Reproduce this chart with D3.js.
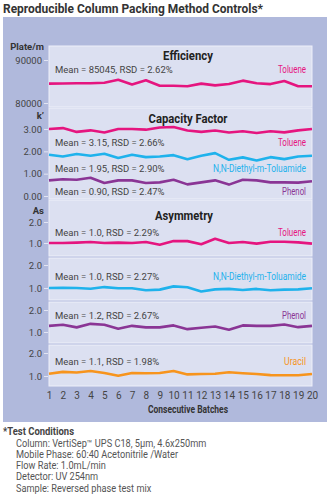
<!DOCTYPE html>
<html>
<head>
<meta charset="utf-8">
<script src="https://cdn.jsdelivr.net/npm/d3@7"></script>
<style>
  body { margin: 0; background: #fff; }
  svg { display: block; }
  text { font-family: "Roboto", "DejaVu Sans Condensed", sans-serif; }
</style>
</head>
<body>
<svg width="330" height="497"></svg>
<script>
// batches on the x axis
var batches = [1, 2, 3, 4, 5, 6, 7, 8, 9, 10, 11, 12, 13, 14, 15, 16, 17, 18, 19, 20];

// efficiency, plates per metre
var effToluene = [84500, 84550, 84600, 84600, 84700, 85400, 84300, 85300, 84000, 84000,
                  83900, 84500, 84100, 84400, 85200, 84600, 84400, 85100, 83900, 83900];

// capacity factor k'
var kToluene = [3.0, 3.04, 2.87, 2.94, 2.84, 3.0, 3.0, 2.97, 3.07, 3.09,
                2.93, 2.87, 2.93, 2.84, 2.9, 2.82, 2.9, 2.85, 2.94, 3.0];
var kDeet = [1.85, 1.77, 1.88, 1.8, 1.89, 1.7, 1.85, 1.74, 1.77, 1.83,
             1.65, 1.8, 1.92, 1.62, 1.73, 1.59, 1.74, 1.65, 1.77, 1.8];
var kPhenol = [0.70, 0.75, 0.73, 0.82, 0.58, 0.70, 0.70, 0.58, 0.61, 0.73,
               0.52, 0.61, 0.70, 0.51, 0.73, 0.70, 0.61, 0.61, 0.60, 0.66];

// asymmetry As
var asToluene = [1.0, 1.0, 1.02, 1.05, 1.0, 1.02, 1.0, 1.05, 0.92, 1.09,
                 1.09, 0.94, 1.2, 1.0, 1.05, 0.97, 1.06, 1.06, 1.03, 0.97];
var asDeet = [1.0, 1.01, 1.0, 0.97, 1.04, 0.99, 0.99, 0.9, 0.93, 1.07,
              1.03, 0.85, 0.94, 0.96, 0.91, 0.96, 0.9, 0.93, 0.94, 0.99];
var asPhenol = [1.28, 1.33, 1.21, 1.37, 1.33, 1.15, 1.28, 1.21, 1.21, 1.30,
                1.13, 1.19, 1.25, 1.10, 1.30, 1.28, 1.28, 1.34, 1.22, 1.28];
var asUracil = [1.10, 1.18, 1.15, 1.22, 1.13, 1.01, 1.13, 1.12, 1.13, 1.22,
                1.07, 1.09, 1.10, 1.16, 1.12, 1.09, 1.04, 1.03, 1.03, 1.09];

// tick labels
var effTicks = [80000, 90000];
var kTicks = [0, 1, 2, 3];
var asTicks = [1, 2];

var conditions = [
  "Column: VertiSep\u2122  UPS C18, 5\u00b5m, 4.6x250mm",
  "Mobile Phase: 60:40 Acetonitrile /Water",
  "Flow Rate: 1.0mL/min",
  "Detector: UV 254nm",
  "Sample: Reversed phase test mix"
];

var colors = {
  toluene: "#e5157f",
  deet: "#1fb2ec",
  phenol: "#8a3595",
  uracil: "#f7941d"
};

// squeeze a label to the width it has in the original (condensed face)
function fit(sel, w) {
  sel.attr("textLength", w).attr("lengthAdjust", "spacingAndGlyphs");
}

var svg = d3.select("svg");

svg.append("text")
  .attr("x", 3).attr("y", 13)
  .attr("font-size", 13.5).attr("font-weight", "bold").attr("fill", "#333")
  .text("Reproducible Column Packing Method Controls*")
  .call(fit, 260);

svg.append("rect")
  .attr("x", 3).attr("y", 17).attr("width", 324).attr("height", 405)
  .attr("fill", "#b0b9dc");

var x = d3.scaleLinear().domain([1, 20]).range([49, 312]);

var line = d3.line();

var nameWidth = { "Toluene": 28, "N,N-Diethyl-m-Toluamide": 93, "Phenol": 24, "Uracil": 22 };

// one entry per light panel
var panels = [
  { top: 46, bottom: 107, domain: [80000, 90000], range: [103, 60], ticks: effTicks, fmt: d3.format("d"),
    series: [{ values: effToluene, color: colors.toluene, name: "Toluene", mean: "Mean = 85045, RSD = 2.62%", ly: 70 }] },
  { top: 108, bottom: 199, domain: [0, 3], range: [196, 129], ticks: kTicks, fmt: d3.format(".2f"),
    series: [
      { values: kToluene, color: colors.toluene, name: "Toluene", mean: "Mean = 3.15, RSD = 2.66%", ly: 143 },
      { values: kDeet, color: colors.deet, name: "N,N-Diethyl-m-Toluamide", mean: "Mean = 1.95, RSD = 2.90%", ly: 169 },
      { values: kPhenol, color: colors.phenol, name: "Phenol", mean: "Mean = 0.90, RSD = 2.47%", ly: 192 }
    ] },
  { top: 200, bottom: 256, domain: [1, 2], range: [243, 222], ticks: asTicks, fmt: d3.format(".1f"),
    series: [{ values: asToluene, color: colors.toluene, name: "Toluene", mean: "Mean = 1.0, RSD = 2.29%", ly: 233 }] },
  { top: 258, bottom: 300, domain: [1, 2], range: [288, 265], ticks: asTicks, fmt: d3.format(".1f"),
    series: [{ values: asDeet, color: colors.deet, name: "N,N-Diethyl-m-Toluamide", mean: "Mean = 1.0, RSD = 2.27%", ly: 277 }] },
  { top: 302, bottom: 343, domain: [1, 2], range: [332, 310], ticks: asTicks, fmt: d3.format(".1f"),
    series: [{ values: asPhenol, color: colors.phenol, name: "Phenol", mean: "Mean = 1.2, RSD = 2.67%", ly: 316 }] },
  { top: 345, bottom: 386, domain: [1, 2], range: [376, 353], ticks: asTicks, fmt: d3.format(".1f"),
    series: [{ values: asUracil, color: colors.uracil, name: "Uracil", mean: "Mean = 1.1, RSD = 1.98%", ly: 362 }] }
];

panels.forEach(function (p) {
  var y = d3.scaleLinear().domain(p.domain).range(p.range);
  var g = svg.append("g");

  g.append("rect")
    .attr("x", 49).attr("y", p.top)
    .attr("width", 263).attr("height", p.bottom - p.top)
    .attr("fill", "#dce0f1")
    .attr("stroke", "#eef0f9").attr("stroke-width", 1);

  var axis = g.append("g")
    .attr("transform", "translate(48,0)")
    .call(d3.axisLeft(y).tickValues(p.ticks).tickFormat(p.fmt).tickSize(4).tickPadding(2));
  axis.select(".domain").remove();
  axis.selectAll("line").attr("stroke", "#e2e5f3");
  axis.selectAll("text")
    .attr("font-size", 9.5).attr("fill", "#444")
    .style("font-family", null);

  p.series.forEach(function (s) {
    g.append("path")
      .datum(s.values)
      .attr("fill", "none")
      .attr("stroke", s.color)
      .attr("stroke-width", 2.6)
      .attr("stroke-linejoin", "round")
      .attr("d", line.x(function (d, i) { return x(batches[i]); }).y(function (d) { return y(d); }));

    g.append("text")
      .attr("x", 55).attr("y", s.ly).attr("dy", "0.35em")
      .attr("font-size", 9.5).attr("fill", "#444")
      .text(s.mean);

    g.append("text")
      .attr("x", 306).attr("y", s.ly - 1).attr("dy", "0.35em")
      .attr("text-anchor", "end")
      .attr("font-size", 10).attr("fill", s.color)
      .text(s.name)
      .call(fit, nameWidth[s.name]);
  });
});

// panel titles
var titles = [
  { text: "Efficiency", x: 188, y: 55, w: 50 },
  { text: "Capacity Factor", x: 188, y: 118, w: 79 },
  { text: "Asymmetry", x: 184, y: 215, w: 58 }
];
svg.selectAll(".ptitle")
  .data(titles)
  .enter().append("text")
  .attr("class", "ptitle")
  .attr("x", d => d.x).attr("y", d => d.y).attr("dy", "0.35em")
  .attr("text-anchor", "middle")
  .attr("font-size", 13).attr("font-weight", "bold").attr("fill", "#222")
  .text(d => d.text)
  .each(function (d) { d3.select(this).call(fit, d.w); });

// y axis names
var yNames = [
  { text: "Plate/m", y: 47 },
  { text: "k\u2019", y: 116 },
  { text: "As", y: 211 }
];
svg.selectAll(".yname")
  .data(yNames)
  .enter().append("text")
  .attr("class", "yname")
  .attr("x", 44).attr("y", d => d.y).attr("dy", "0.35em")
  .attr("text-anchor", "end")
  .attr("font-size", 9.5).attr("font-weight", "bold").attr("fill", "#333")
  .text(d => d.text);

// x axis
var xAxis = svg.append("g")
  .attr("transform", "translate(0,389)")
  .call(d3.axisBottom(x).tickValues(batches).tickFormat(d3.format("d")).tickSize(0).tickPadding(3));
xAxis.select(".domain").remove();
xAxis.selectAll("text").attr("font-size", 10).attr("fill", "#444").style("font-family", null);

svg.append("text")
  .attr("x", 188).attr("y", 409).attr("dy", "0.35em")
  .attr("text-anchor", "middle")
  .attr("font-size", 10).attr("font-weight", "bold").attr("fill", "#333")
  .text("Consecutive Batches")
  .call(fit, 80);

// footnote
svg.append("text")
  .attr("x", 3).attr("y", 431).attr("dy", "0.35em")
  .attr("font-size", 11).attr("font-weight", "bold").attr("fill", "#444")
  .text("*Test Conditions")
  .call(fit, 71);

svg.selectAll(".cond")
  .data(conditions)
  .enter().append("text")
  .attr("class", "cond")
  .attr("x", 16).attr("y", (d, i) => 443 + i * 11.3).attr("dy", "0.35em")
  .attr("font-size", 10).attr("fill", "#555")
  .text(d => d)
  .each(function () { this.setAttribute("textLength", this.getComputedTextLength() * 0.92); })
  .attr("lengthAdjust", "spacingAndGlyphs");
</script>
</body>
</html>
